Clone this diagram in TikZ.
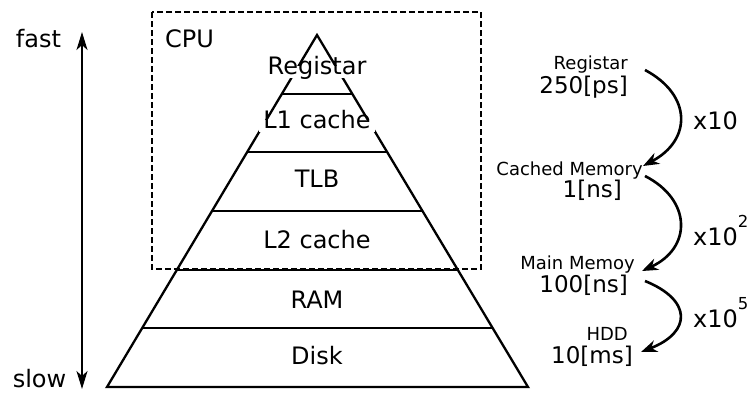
\documentclass[tikz,border=0pt]{standalone}
\usepackage{fontspec}
\setmainfont{DejaVu Sans}
\usetikzlibrary{arrows.meta,calc}
\begin{document}
\begin{tikzpicture}[x=1pt,y=-1pt,
  tri/.style={line width=2.3pt,line join=miter},
  lvl/.style={fill=white,inner xsep=4pt,inner ysep=1pt,text height=0.75em,text depth=0.25em,anchor=base,font=\fontsize{24}{26}\selectfont},
  big/.style={inner sep=0pt,font=\fontsize{24}{26}\selectfont},
  small/.style={inner sep=0pt,anchor=base east,font=\fontsize{18}{20}\selectfont},
  mid/.style={inner sep=0pt,anchor=base east,font=\fontsize{23}{25}\selectfont},
  curv/.style={line width=2.6pt,-{Stealth[length=16pt,width=12pt,inset=5pt]}},
  cpubox/.style={line width=1.8pt,dash pattern=on 6pt off 3pt},
  speed/.style={line width=2pt,{Stealth[length=18pt,width=11pt,inset=5pt]}-{Stealth[length=18pt,width=11pt,inset=5pt]}}]
\useasboundingbox (0,0) rectangle (752,392);
% CPU box
\draw[cpubox] (152,12) rectangle (481,269);
\node[big,anchor=base west] (cpu) at (165,47) {CPU};
% pyramid
\coordinate (apex) at (317,35);
\coordinate (bl) at (107,387);
\coordinate (br) at (528,387);
\draw[tri] (bl) -- (apex) -- (br) -- cycle;
\foreach \k in {1,...,5}{
  \draw[tri] ($(apex)!\k/6!(bl)$) -- ($(apex)!\k/6!(br)$);
}
\node[lvl] (reg) at (317,74) {Registar};
\node[lvl] (l1) at (317,128) {L1 cache};
\node[lvl] (tlb) at (317,187) {TLB};
\node[lvl] (l2) at (317,248) {L2 cache};
\node[lvl] (ram) at (317,308) {RAM};
\node[lvl] (disk) at (317,364) {Disk};
% speed arrow
\node[big,anchor=base] (fast) at (38.5,47) {fast};
\node[big,anchor=base] (slow) at (39.5,387) {slow};
\coordinate (stop) at (82,32);
\coordinate (sbot) at (82,389);
\draw[speed] (sbot) -- (stop);
% right labels
\node[small] (rreg) at (628,69) {Registar};
\node[mid] (rps) at (628,93) {250[ps]};
\node[small] (rcm) at (643,175) {Cached Memory};
\node[mid] (rns) at (622,197) {1[ns]};
\node[small] (rmm) at (635,269) {Main Memoy};
\node[mid] (r100) at (628,292) {100[ns]};
\node[small] (rhdd) at (628,340) {HDD};
\node[mid] (rms) at (633,363) {10[ms]};
% curved arrows
\coordinate (a1s) at (645,70);
\coordinate (a1e) at (643,166);
\coordinate (a2s) at (645,176);
\coordinate (a2e) at (642,271);
\coordinate (a3s) at (645,281);
\coordinate (a3e) at (641,352);
\draw[curv] (a1s) .. controls (692,95) and (692,140) .. (a1e);
\draw[curv] (a2s) .. controls (692,200) and (692,248) .. (a2e);
\draw[curv] (a3s) .. controls (692,300) and (692,332) .. (a3e);
% factors
\node[big,anchor=base west] (f1) at (693,129) {x10};
\node[big,anchor=base west] (f2) at (693,245) {x10\raisebox{18pt}{\fontsize{16.5}{18}\selectfont 2}};
\node[big,anchor=base west] (f3) at (693,327) {x10\raisebox{18pt}{\fontsize{16.5}{18}\selectfont 5}};
\end{tikzpicture}
\end{document}
